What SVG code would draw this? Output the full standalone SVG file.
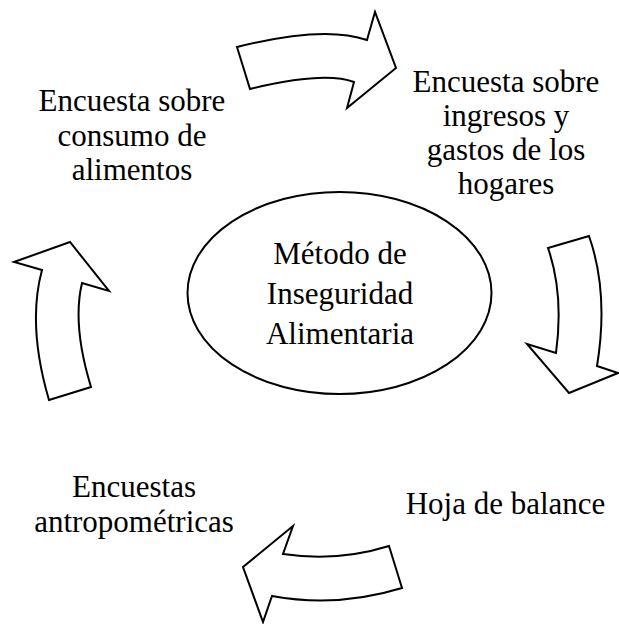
<svg xmlns="http://www.w3.org/2000/svg" width="619" height="624" viewBox="0 0 619 624">
<style>
.arrow{fill:#fff;stroke:#000;stroke-width:2;stroke-linejoin:miter}
.node{fill:#fff;stroke:#000;stroke-width:2}
text{font-family:"Liberation Serif","Times New Roman",serif;font-size:31px;fill:#000;text-anchor:middle}
</style>
<rect width="619" height="624" fill="#fff"/>
<g id="connectors">
<path class="arrow" d="M237,47 Q324,25 367,40 L375,12 L396,68 L347,108 L354,82 Q324,71 250,89 Z"/>
<path class="arrow" d="M548,248 L589,236 Q609,293 597,366 L618,373 L569,393 L527,344 L556,353 Q564,294 548,248 Z"/>
<path class="arrow" d="M243,567 L293,526 L283,554 Q338,562 389,546 L402,588 Q337,608 272,596 L263,622 Z"/>
<path class="arrow" d="M49,400 L91,387 Q72,325 82,283 L109,291 L70,242 L14,262 L42,270 Q27,325 49,400 Z"/>
</g>
<g id="center">
<ellipse class="node" cx="339.5" cy="293" rx="152" ry="101"/>
<text x="340" y="264">Método de</text>
<text x="340" y="304">Inseguridad</text>
<text x="340" y="344">Alimentaria</text>
</g>
<g id="consumo">
<text x="132" y="111">Encuesta sobre</text>
<text x="132" y="145.5">consumo de</text>
<text x="132" y="180">alimentos</text>
</g>
<g id="ingresos">
<text x="506" y="92">Encuesta sobre</text>
<text x="506" y="126">ingresos y</text>
<text x="506" y="160">gastos de los</text>
<text x="506" y="194">hogares</text>
</g>
<g id="balance">
<text x="505.5" y="514">Hoja de balance</text>
</g>
<g id="antropometricas">
<text x="134" y="497">Encuestas</text>
<text x="134" y="532">antropométricas</text>
</g>
</svg>
